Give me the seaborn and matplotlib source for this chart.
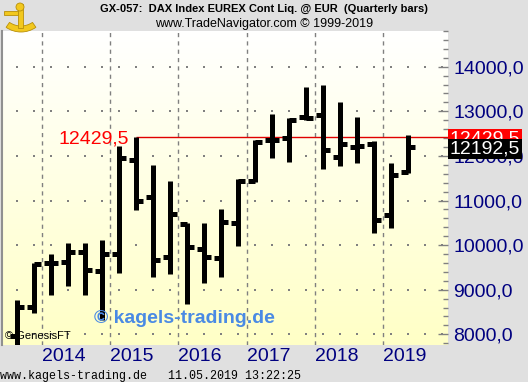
import numpy as np
import pandas as pd
import matplotlib
matplotlib.use("Agg")
import matplotlib.pyplot as plt
import matplotlib.transforms as mtransforms
from matplotlib.patches import Wedge, Rectangle, Circle
import seaborn as sns

# quarterly OHLC, DAX (EUREX continuous)
quarters = ["2013Q3", "2013Q4",
            "2014Q1", "2014Q2", "2014Q3", "2014Q4",
            "2015Q1", "2015Q2", "2015Q3", "2015Q4",
            "2016Q1", "2016Q2", "2016Q3", "2016Q4",
            "2017Q1", "2017Q2", "2017Q3", "2017Q4",
            "2018Q1", "2018Q2", "2018Q3", "2018Q4",
            "2019Q1", "2019Q2"]
opens = [7960, 8612, 9597, 9619, 9843, 9418, 9798, 11903, 11075, 9731,
         10470, 9910, 9709, 10493, 11433, 12351, 12396, 12866,
         12911, 11970, 12194, 12261, 10672, 11634]
highs = [8769, 9597, 9798, 10045, 10045, 10112, 12217, 12429.5, 11791, 11433,
         10493, 10493, 10806, 11478, 12351, 12933, 12844, 13538,
         13582, 13202, 12866, 12329, 11836, 12463]
lows = [7650, 8477, 8880, 9082, 8880, 8321, 9373, 10784, 9284, 9351,
        8679, 9149, 9284, 9978, 11411, 11948, 11858, 12799,
        11702, 11769, 11836, 10269, 10381, 11612]
closes = [8612, 9575, 9597, 9843, 9440, 9798, 11948, 10985, 9664, 10694,
          9955, 9731, 10515, 11433, 12306, 12351, 12799, 12844,
          12127, 12261, 12216, 10560, 11567, 12192.5]

# horizontal marker line (2015 high)
marker_quarter = "2015Q2"
marker_level = 12429.5

y_levels = [8000, 9000, 10000, 11000, 12000, 13000, 14000]
title_1 = "GX-057:  DAX Index EUREX Cont Liq. @ EUR  (Quarterly bars)"
title_2 = "www.TradeNavigator.com \u00a9 1999-2019"
footer = "www.kagels-trading.de   11.05.2019 13:22:25"


def fmt(v):
    return f"{v:.1f}".replace(".", ",")


df = pd.DataFrame({"quarter": quarters, "open": opens, "high": highs,
                   "low": lows, "close": closes})
df["pos"] = np.arange(len(df))

sns.set_style("white")
plt.rcParams["font.family"] = ["Liberation Sans", "DejaVu Sans"]
plt.rcParams["lines.scale_dashes"] = False

W, H = 528, 382
fig = plt.figure(figsize=(W / 100, H / 100), dpi=100, facecolor="#e0e0e0")
ax = fig.add_axes([2 / W, 1 - 345 / H, 446 / W, 314 / H])

xmin, xmax = -0.88, 25.35
ymin, ymax = 7761, 14791
ax.set_xlim(xmin, xmax)
ax.set_ylim(ymin, ymax)

# white -> pale yellow background
grad = np.linspace(0, 1, 256).reshape(-1, 1)
cmap = matplotlib.colors.LinearSegmentedColormap.from_list("bg", ["#ffffff", "#ffffc6"])
ax.imshow(grad, cmap=cmap, aspect="auto", extent=[0, 1, 0, 1],
          transform=ax.transAxes, origin="upper", zorder=0)

# dotted horizontal grid and dashed year lines
gx, gy = np.meshgrid(np.arange(0, 26), y_levels)
ax.scatter(gx.ravel(), gy.ravel(), s=0.8, color="#808080", marker="s",
           linewidths=0, zorder=1)
year_starts = df.loc[df["quarter"].str.endswith("Q1"), ["quarter", "pos"]]
for _, r in year_starts.iterrows():
    ax.axvline(r["pos"] - 0.5, color="#808080", lw=1, ls=(0, (3, 3)), zorder=1)

# marker line from the 2015 high to the price axis
m_pos = df.loc[df["quarter"] == marker_quarter, "pos"].iloc[0]
ax.plot([m_pos, xmax], [marker_level, marker_level], color="#e00000", lw=1,
        zorder=2, solid_capstyle="butt")

# OHLC bars
bw = 3.6
ax.vlines(df["pos"], df["low"], df["high"], color="black", lw=bw, zorder=3)
ax.hlines(df["open"], df["pos"] - 0.42, df["pos"], color="black", lw=bw, zorder=3)
ax.hlines(df["close"], df["pos"], df["pos"] + 0.42, color="black", lw=bw, zorder=3)

# axes styling
for side in ["top", "bottom", "right"]:
    ax.spines[side].set_visible(False)
ax.spines["left"].set_color("#909090")
ax.spines["left"].set_linewidth(1.5)
ax.set_xticks([])
ax.yaxis.tick_right()
ax.set_yticks(y_levels)
ax.set_yticklabels([fmt(v) for v in y_levels])
ax.set_yticks(np.arange(7800, 14801, 200), minor=True)
ax.tick_params(axis="y", which="major", direction="in", length=7.2, width=1,
               color="#808080", labelsize=14, labelcolor="#000080", pad=4)
ax.tick_params(axis="y", which="minor", direction="in", length=3.6, width=1,
               color="#808080")

# year labels
trans = mtransforms.blended_transform_factory(ax.transData, ax.transAxes)
for _, r in year_starts.iterrows():
    ax.text(r["pos"] - 0.5, -0.038, r["quarter"][:4], transform=trans,
            ha="left", va="center", fontsize=14, color="#000080", clip_on=False)

# price labels
ax.text(m_pos - 0.4, marker_level, fmt(marker_level),
        ha="right", va="center_baseline", fontsize=14, color="#ff0000", zorder=4)
ytr = mtransforms.blended_transform_factory(ax.transAxes, ax.transData)
ax.text(1.004, marker_level, fmt(marker_level), transform=ytr,
        ha="left", va="center_baseline", fontsize=14, color="white", zorder=5,
        clip_on=False,
        bbox=dict(boxstyle="square,pad=0.08", fc="#ff0000", ec="none"))
last = df["close"].iloc[-1]
ax.text(1.004, last, fmt(last), transform=ytr,
        ha="left", va="center_baseline", fontsize=14, color="white", zorder=6,
        clip_on=False,
        bbox=dict(boxstyle="square,pad=0.08", fc="black", ec="none"))

# watermarks and header
ax.text(0.408, 0.085, "\u00a9 kagels-trading.de", transform=ax.transAxes,
        ha="center", va="center", fontsize=14, fontweight="bold",
        color="#4a8ae4", zorder=4)
ax.text(0.007, 0.03, "\u00a9 GenesisFT", transform=ax.transAxes,
        ha="left", va="center", fontsize=8, color="black", zorder=4)
fig.text(264 / W, 1 - 9 / H, title_1, ha="center", va="center",
         fontsize=8, fontweight="bold", color="black")
fig.text(264 / W, 1 - 24 / H, title_2, ha="center", va="center",
         fontsize=9, color="black")
fig.text(0.0, 1 - 376 / H, footer, ha="left", va="center",
         fontsize=8.4, family="Liberation Mono", color="black")

# small golden sextant logo, top left (pixel coords, y from top)
px = mtransforms.Affine2D().scale(1 / W, -1 / H).translate(0, 1) + fig.transFigure
gold, dark_gold = "#f2c81e", "#b8900a"
fig.add_artist(Wedge((21, 6), 26, 55, 125, width=6, transform=px,
                     fc=gold, ec=dark_gold, lw=0.6))
fig.add_artist(Rectangle((18, 4), 5, 24, transform=px, fc=gold, ec=dark_gold, lw=0.6))
fig.add_artist(Rectangle((4, 11), 14, 4, transform=px, fc=gold, ec=dark_gold, lw=0.6))
fig.add_artist(Circle((20, 7), 4, transform=px, fc=gold, ec=dark_gold, lw=0.6))

fig.savefig("out.png", dpi=100, facecolor=fig.get_facecolor())
